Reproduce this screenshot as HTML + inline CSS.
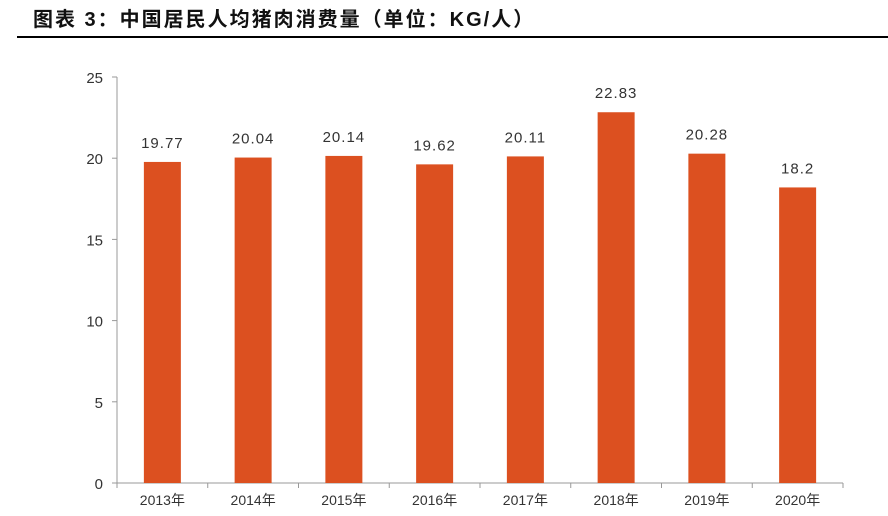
<!DOCTYPE html>
<html><head><meta charset="utf-8"><style>
body{margin:0;width:888px;height:516px;background:#fff;overflow:hidden}
svg{display:block}
</style></head><body>
<svg width="888" height="516" xmlns="http://www.w3.org/2000/svg">
<text x="33" y="26" font-family="'Liberation Sans','Noto Sans CJK SC',sans-serif" font-weight="bold" font-size="20" fill="#111" letter-spacing="2">图表 3：中国居民人均猪肉消费量（单位：KG/人）</text>
<line x1="17" y1="37" x2="888" y2="37" stroke="#000" stroke-width="2"/>
<g id="chart"></g>
</svg>
<script>
const categories=["2013年","2014年","2015年","2016年","2017年","2018年","2019年","2020年"];
const values=[19.77,20.04,20.14,19.62,20.11,22.83,20.28,18.2];
const valueLabels=["19.77","20.04","20.14","19.62","20.11","22.83","20.28","18.2"];
const yTicks=[0,5,10,15,20,25];
const NS="http://www.w3.org/2000/svg";
const g=document.getElementById("chart");
const x0=117,x1=843,y0=483,yTop=77,yMax=25;
const step=(x1-x0)/categories.length;
const y=v=>y0-(v/yMax)*(y0-yTop);
const xc=i=>x0+step*(i+0.5);
function mk(t,a,txt){const e=document.createElementNS(NS,t);for(const k in a)e.setAttribute(k,a[k]);if(txt!==undefined)e.textContent=txt;g.appendChild(e);return e;}
const font="'Liberation Sans','Noto Sans CJK SC',sans-serif";
let ax=mk("line",{x1:x0,y1:yTop,x2:x0,y2:y0,stroke:"#999","stroke-width":1});


let bx=mk("line",{x1:x0-5,y1:y0,x2:x1,y2:y0,stroke:"#999","stroke-width":1});


yTicks.forEach(t=>{
  let l=mk("line",{x1:x0-5,y1:y(t),x2:x0,y2:y(t),stroke:"#999"});
  
  
  let tx=mk("text",{x:x0-14,y:y(t)+6,"text-anchor":"end","font-family":font,"font-size":"15",fill:"#333"},String(t));
  
  
});
for(let i=0;i<=categories.length;i++){
  let l=mk("line",{x1:x0+step*i,y1:y0,x2:x0+step*i,y2:y0+5,stroke:"#999"});
  
  
}
categories.forEach((c,i)=>{
  const bw=37;
  let r=mk("rect",{x:xc(i)-bw/2,y:y(values[i]),width:bw,height:y0-y(values[i]),fill:"#DC5020"});
  
  
  let v=mk("text",{x:xc(i),y:y(values[i])-14,"text-anchor":"middle","font-family":font,"font-size":"15",fill:"#333","letter-spacing":"1"},valueLabels[i]);
  
  
  let cl=mk("text",{x:xc(i),y:y0+22,"text-anchor":"middle","font-family":font,"font-size":"14",fill:"#333"},c);
  
  
});
</script>
</body></html>
